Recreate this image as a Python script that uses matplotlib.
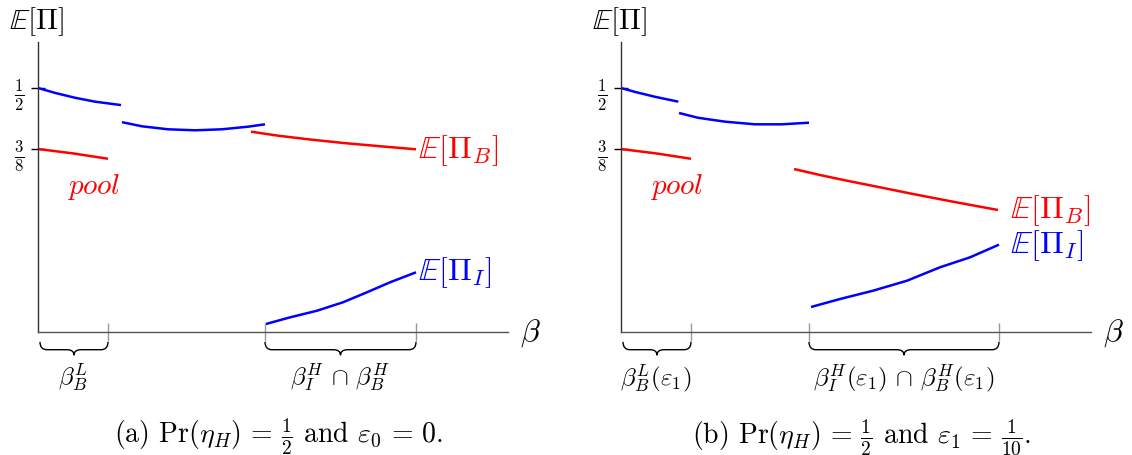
import numpy as np
import matplotlib
matplotlib.use("Agg")
from matplotlib import pyplot as plt
from matplotlib.path import Path
from matplotlib.patches import PathPatch
from matplotlib.transforms import blended_transform_factory

plt.rcParams['mathtext.fontset'] = 'cm'
plt.rcParams['font.family'] = ['cmr10', 'DejaVu Serif']
plt.rcParams['axes.unicode_minus'] = False

RED = '#ff0000'
BLUE = '#0000ff'

# ---- panel (a): Pr(eta_H) = 1/2, eps_0 = 0
a_blue1_x = [0.00, 0.17, 0.37, 0.57, 0.83]
a_blue1_y = [0.500, 0.490, 0.480, 0.472, 0.465]
a_blue2_x = [0.84, 1.04, 1.30, 1.57, 1.84, 2.10, 2.27]
a_blue2_y = [0.430, 0.4215, 0.4154, 0.4133, 0.4154, 0.4207, 0.4256]
a_red1_x = [0.00, 0.35, 0.70]
a_red1_y = [0.375, 0.366, 0.355]
a_red2_x = [2.13, 2.40, 2.74, 3.07, 3.40, 3.78]
a_red2_y = [0.4105, 0.4023, 0.394, 0.387, 0.381, 0.3744]
a_blue3_x = [2.28, 2.52, 2.79, 3.05, 3.29, 3.52, 3.78]
a_blue3_y = [0.0164, 0.030, 0.0436, 0.0609, 0.0814, 0.1018, 0.1223]
a_ticks = [0.70, 2.27, 3.78]

# ---- panel (b): Pr(eta_H) = 1/2, eps_1 = 1/10
b_blue1_x = [0.00, 0.14, 0.34, 0.573]
b_blue1_y = [0.500, 0.492, 0.482, 0.472]
b_blue2_x = [0.58, 0.77, 1.04, 1.34, 1.61, 1.88]
b_blue2_y = [0.4488, 0.439, 0.431, 0.4256, 0.4256, 0.4289]
b_red1_x = [0.00, 0.35, 0.70]
b_red1_y = [0.375, 0.366, 0.355]
b_red2_x = [1.73, 1.99, 2.26, 2.59, 2.92, 3.32, 3.77]
b_red2_y = [0.334, 0.3217, 0.310, 0.2965, 0.2828, 0.267, 0.250]
b_blue3_x = [1.90, 2.19, 2.52, 2.86, 3.19, 3.49, 3.78]
b_blue3_y = [0.0512, 0.0676, 0.0846, 0.1051, 0.1326, 0.153, 0.179]
b_ticks = [0.70, 1.88, 3.78]

ytick_vals = [0.375, 0.5]
ytick_labels = [r'$\frac{3}{8}$', r'$\frac{1}{2}$']


def brace(ax, x0, x1):
    trans = blended_transform_factory(ax.transData, ax.transAxes)
    top, mid, bot = -0.034, -0.061, -0.080
    r = 0.07
    xm = (x0 + x1) / 2
    verts = [(x0, top), (x0, mid), (x0 + r, mid), (xm - r, mid), (xm, mid), (xm, bot),
             (xm, mid), (xm + r, mid), (x1 - r, mid), (x1, mid), (x1, top)]
    codes = [Path.MOVETO, Path.CURVE3, Path.CURVE3, Path.LINETO, Path.CURVE3, Path.CURVE3,
             Path.CURVE3, Path.CURVE3, Path.LINETO, Path.CURVE3, Path.CURVE3]
    ax.add_patch(PathPatch(Path(verts, codes), fill=False, lw=1.0, color='black',
                           transform=trans, clip_on=False))


def setup(ax, xticks):
    ax.set_xlim(0, 4.7)
    ax.set_ylim(0, 0.595)
    for s in ['top', 'right']:
        ax.spines[s].set_visible(False)
    ax.spines['left'].set_color('#333333')
    ax.spines['bottom'].set_color('#555555')
    ax.spines['left'].set_linewidth(1.0)
    ax.spines['bottom'].set_linewidth(1.0)
    ax.set_yticks(ytick_vals)
    ax.set_yticklabels(ytick_labels, fontsize=17)
    ax.tick_params(axis='y', direction='inout', length=10, width=1.0, color='black', pad=5)
    ax.set_xticks(xticks)
    ax.set_xticklabels([])
    ax.tick_params(axis='x', direction='inout', length=13, width=1.0, color='#999999')
    ax.text(-0.29, 0.672, r'$\mathbb{E}[\Pi]$', fontsize=21, ha='left', va='top', clip_on=False)
    ax.text(4.82, 0.0, r'$\beta$', fontsize=23, ha='left', va='center', clip_on=False)


fig = plt.figure(figsize=(11.32, 4.56), dpi=100)
w = 470 / 1132
h = 0.595 * 488 / 456
bottom = (456 - 333) / 456
axa = fig.add_axes([38 / 1132, bottom, w, h])
axb = fig.add_axes([621 / 1132, bottom, w, h])

lw = 1.8
style = dict(lw=lw, solid_joinstyle='round', solid_capstyle='butt')
# panel (a)
setup(axa, a_ticks)
axa.plot(a_blue1_x, a_blue1_y, color=BLUE, **style)
axa.plot(a_blue2_x, a_blue2_y, color=BLUE, **style)
axa.plot(a_blue3_x, a_blue3_y, color=BLUE, **style)
axa.plot(a_red1_x, a_red1_y, color=RED, **style)
axa.plot(a_red2_x, a_red2_y, color=RED, **style)
axa.text(0.29, 0.299, r'$pool$', color=RED, fontsize=21, ha='left', va='center')
axa.text(3.80, 0.373, r'$\mathbb{E}[\Pi_B]$', color=RED, fontsize=23, ha='left', va='center', clip_on=False)
axa.text(3.80, 0.123, r'$\mathbb{E}[\Pi_I]$', color=BLUE, fontsize=23, ha='left', va='center', clip_on=False)
brace(axa, 0.02, a_ticks[0])
brace(axa, a_ticks[1], a_ticks[2])
axa.text(0.35, -0.092, r'$\beta_B^L$', fontsize=18, ha='center', va='center', clip_on=False)
axa.text(3.02, -0.092, r'$\beta_I^H \,\cap\, \beta_B^H$', fontsize=18, ha='center', va='center', clip_on=False)
axa.text(2.40, -0.213, r'(a) $\Pr(\eta_H)\,=\,\frac{1}{2}$ and $\varepsilon_0\,=\,0$.',
         fontsize=20, ha='center', va='center', clip_on=False)

# panel (b)
setup(axb, b_ticks)
axb.plot(b_blue1_x, b_blue1_y, color=BLUE, **style)
axb.plot(b_blue2_x, b_blue2_y, color=BLUE, **style)
axb.plot(b_blue3_x, b_blue3_y, color=BLUE, **style)
axb.plot(b_red1_x, b_red1_y, color=RED, **style)
axb.plot(b_red2_x, b_red2_y, color=RED, **style)
axb.text(0.29, 0.299, r'$pool$', color=RED, fontsize=21, ha='left', va='center')
axb.text(3.89, 0.250, r'$\mathbb{E}[\Pi_B]$', color=RED, fontsize=23, ha='left', va='center', clip_on=False)
axb.text(3.89, 0.180, r'$\mathbb{E}[\Pi_I]$', color=BLUE, fontsize=23, ha='left', va='center', clip_on=False)
brace(axb, 0.02, b_ticks[0])
brace(axb, b_ticks[1], b_ticks[2])
axb.text(0.35, -0.092, r'$\beta_B^L(\varepsilon_1)$', fontsize=18, ha='center', va='center', clip_on=False)
axb.text(2.83, -0.092, r'$\beta_I^H(\varepsilon_1) \,\cap\, \beta_B^H(\varepsilon_1)$', fontsize=18,
         ha='center', va='center', clip_on=False)
axb.text(2.41, -0.213, r'(b) $\Pr(\eta_H)\,=\,\frac{1}{2}$ and $\varepsilon_1\,=\,\frac{1}{10}$.',
         fontsize=20, ha='center', va='center', clip_on=False)

fig.savefig('out.png', dpi=100)
